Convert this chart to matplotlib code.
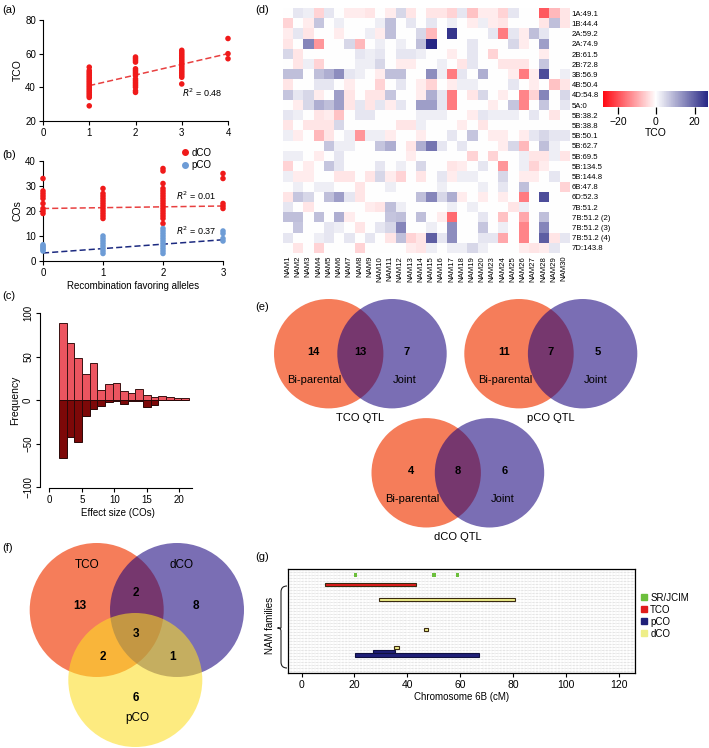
import numpy as np
import matplotlib
matplotlib.use("Agg")
import matplotlib.pyplot as plt
from matplotlib.patches import Circle, PathPatch
from matplotlib.path import Path
from matplotlib.colors import LinearSegmentedColormap, TwoSlopeNorm
from matplotlib.lines import Line2D

plt.rcParams['font.family'] = ['Liberation Sans', 'DejaVu Sans']
plt.rcParams['font.size'] = 7
plt.rcParams['axes.linewidth'] = 0.8
plt.rcParams['xtick.major.width'] = 0.8
plt.rcParams['ytick.major.width'] = 0.8
plt.rcParams['xtick.major.size'] = 3
plt.rcParams['ytick.major.size'] = 3

# ---------------- data ----------------
# (a) TCO vs number of recombination-favoring alleles
tco_x = [1, 2, 3, 4]
tco_vals = [
    [29, 34, 35, 36, 37, 38, 39, 40, 41, 42, 43, 44, 45, 46, 47, 48, 49, 50, 52],
    [37, 38, 40, 41, 42, 43, 44, 45, 47, 48, 49, 50, 51, 55, 56, 57, 58],
    [42, 46, 47, 48, 49, 50, 51, 52, 53, 54, 55, 56, 57, 58, 59, 60, 61, 62],
    [57, 60, 69],
]
tco_fit_x = [1, 4]
tco_fit_y = [41, 60]
tco_r2 = "0.48"

# (b) dCO / pCO vs alleles
co_x = [0, 1, 2, 3]
dco_vals = [
    [19, 20, 21, 23, 25, 26, 27, 28, 33],
    [17, 18, 19, 20, 21, 22, 23, 24, 25, 26, 27, 29],
    [15, 17, 18, 19, 20, 21, 22, 23, 24, 25, 26, 27, 28, 29, 31, 36, 37],
    [21, 22, 23, 33, 35],
]
pco_vals = [
    [4, 4.5, 5, 5.5, 6, 6.5],
    [3, 4, 5, 6, 7, 8, 9, 10],
    [3, 4, 5, 6, 7, 8, 9, 10, 11, 12, 13],
    [8, 9, 11, 12],
]
dco_fit_x = [0, 3]
dco_fit_y = [21, 22]
pco_fit_x = [0, 3]
pco_fit_y = [3.2, 8.5]
dco_r2 = "0.01"
pco_r2 = "0.37"

# (c) effect size histogram (positive / negative effects)
bin_edges = np.linspace(1.5, 21.5, 18)
freq_pos = [88, 65, 48, 30, 42, 11, 18, 19, 10, 8, 13, 6, 3, 5, 3, 2, 2]
freq_neg = [-67, -43, -48, -18, -10, -7, -2, -1, -5, -1, -1, -8, -6, 0, 0, 0, 0]

# (d) heatmap of TCO effects
nam_cols = ['NAM1', 'NAM2', 'NAM3', 'NAM4', 'NAM5', 'NAM6', 'NAM7', 'NAM8', 'NAM9',
            'NAM10', 'NAM11', 'NAM12', 'NAM13', 'NAM14', 'NAM15', 'NAM16', 'NAM17',
            'NAM18', 'NAM19', 'NAM20', 'NAM23', 'NAM24', 'NAM25', 'NAM26', 'NAM27',
            'NAM28', 'NAM29', 'NAM30']
qtl_rows = ['1A:49.1', '1B:44.4', '2A:59.2', '2A:74.9', '2B:61.5', '2B:72.8', '3B:56.9',
            '4B:50.4', '4D:54.8', '5A:0', '5B:38.2', '5B:38.8', '5B:50.1', '5B:62.7',
            '5B:69.5', '5B:134.5', '5B:144.8', '6B:47.8', '6D:52.3', '7B:51.2',
            '7B:51.2 (2)', '7B:51.2 (3)', '7B:51.2 (4)', '7D:143.8']
heat_values = [
    [0, 3, 2, -5, 3, 0, -2, -2, -3, 0, -2, 5, -3, 0, -3, -3, -5, 3, -7, -2, -2, -5, 3, 0, 0, -19, -8, -3],
    [-5, 0, -2, 7, 0, 2, 0, 0, 0, 2, 8, 0, 3, 0, 3, 0, 2, 0, -2, 2, -2, -3, 0, 0, 0, -3, 8, -3],
    [-2, 3, -3, 0, 0, -2, 0, 0, 2, -2, 8, 0, 0, 5, -8, 0, 25, 0, 0, 0, 3, -15, 3, -2, 8, 3, 0, 0],
    [-3, 0, 15, -12, 0, 0, 5, -8, 0, 2, 0, 2, 0, 8, 27, 0, 0, 0, 3, 0, 0, 0, 5, -2, 0, 12, 0, 0],
    [5, -3, 0, 0, 0, 0, 0, 3, 2, 3, 0, 3, 3, 2, 0, 0, -2, 0, 3, 0, -5, 0, 0, 0, 0, -2, 0, 0],
    [0, -3, 2, -5, 0, 0, 0, 2, 2, 5, 0, -2, -2, 0, 0, 2, 0, -3, 3, 0, 0, -3, -3, -3, 0, 7, 0, 0],
    [8, 8, 0, 8, 10, 14, 3, 2, 0, -2, 8, 8, 0, 0, 14, 2, -15, 3, 0, 10, 0, 0, -2, -15, -2, 22, 0, 2],
    [-3, 0, 0, 3, 3, 0, -2, 0, 0, -5, 0, 3, 0, -2, -5, 0, -2, 2, 2, 0, 0, 0, 3, 0, -2, 0, -7, -3],
    [7, 3, 5, -2, 0, 12, -3, 0, -3, -3, 7, 0, 0, -2, 10, 3, -15, 0, -3, 5, 0, -2, 0, -14, -5, 15, 0, 5],
    [0, -2, 5, 10, 8, 12, -3, 3, -3, 3, -2, 3, 0, 12, 12, 3, -15, 0, 0, 0, -2, 0, 7, -14, 0, 7, 0, 3],
    [3, 2, 0, -3, -2, -7, 0, 3, 3, 0, 0, 0, 0, 2, 2, 2, 0, 0, -2, 3, 2, 2, 2, 0, 3, 0, -3, 0],
    [-3, 0, -3, -3, -3, 5, 0, 0, 0, 0, 0, -3, -3, 2, 0, 0, 0, -2, 0, -3, 0, 0, 0, 0, 0, 0, 0, 0],
    [2, -2, 0, -8, -3, 0, 2, -12, 2, 2, -2, 0, 0, -2, 0, 0, 3, 0, 7, 0, -2, -2, 0, -2, 3, 5, 3, 3],
    [0, 0, 0, 0, 7, 2, 2, 0, 0, 7, 10, 0, -3, 10, 17, 3, 0, 3, 0, 0, 0, -2, 5, -8, 0, 8, 2, 0],
    [2, 2, 0, -2, 0, 3, 0, 0, 0, 0, 0, 0, -2, 0, 0, 0, 0, 0, -5, 0, -5, 0, 0, 2, -3, -3, 2, -3],
    [-5, 0, -2, 0, 7, 3, 0, 0, 0, 3, 0, 2, 0, 5, 0, 0, -3, -2, 0, 3, 0, -12, 0, 2, -5, -2, 0, 0],
    [2, -2, -2, 0, 0, -3, -3, 0, -3, 5, -2, -5, 0, -3, 0, 3, -2, 2, 2, 0, 0, 5, 0, -2, -2, 0, 3, 0],
    [0, 2, 0, 2, 2, 0, 0, -3, 0, 0, 2, 0, 0, 0, 0, 2, 0, 0, 0, 2, 0, 3, 0, 8, 0, 0, 0, -5],
    [-3, 7, 5, 0, 8, 12, 3, -3, 0, 0, 0, 0, 0, 8, 15, 5, 10, -2, 0, -2, 0, -2, 0, -15, 0, 22, 0, 0],
    [3, 0, -3, 0, 0, 0, 0, 0, -2, -3, 8, 2, 0, 0, 0, 0, 2, 0, 2, 0, 0, 0, -3, 2, 0, 0, 0, 0],
    [8, 8, 0, 8, 0, 10, -2, 0, 0, 0, 7, 8, 0, 8, 0, -2, -17, 0, 0, 3, 0, -7, 0, -10, 0, 8, 0, 0],
    [0, 7, 0, 0, 3, 2, 0, -3, 0, 3, 5, 15, 0, 0, 2, 0, 14, 0, 0, 7, 0, 2, 0, -14, 0, 15, 0, 0],
    [3, 0, 0, 2, 3, 0, 3, 0, 3, 0, -3, 8, -5, -3, 20, 3, 14, 0, 0, 3, 3, -10, 0, -14, 0, 20, -3, 3],
    [0, -3, 0, -5, 0, 0, 0, -5, 0, 0, 0, 0, -2, -3, 2, 0, 2, 2, 5, 2, 0, 0, 0, -2, -3, -2, 3, 0],
]

# (e) two-set Venn counts: [bi-parental only, shared, joint only]
venn_e_names = ['TCO QTL', 'pCO QTL', 'dCO QTL']
venn_e_counts = [[14, 13, 7], [11, 7, 5], [4, 8, 6]]

# (f) three-set Venn counts
venn_f_sets = ['TCO', 'dCO', 'pCO']
venn_f_counts = {'TCO': 13, 'dCO': 8, 'pCO': 6, 'TCO&dCO': 2, 'TCO&pCO': 2,
                 'dCO&pCO': 1, 'all': 3}

# (g) QTL intervals on chromosome 6B
g_trait = ['TCO', 'dCO', 'dCO', 'dCO', 'pCO', 'pCO']
g_start = [8.8, 29.3, 46.3, 35.0, 27.0, 20.1]
g_end = [43.2, 80.8, 47.8, 36.9, 35.2, 67.1]
g_row = [5, 10, 20, 26, 27.5, 28.6]
sr_pos = [20.4, 50.1, 59.0]
sr_row = 2
g_colors = {'SR/JCIM': '#6cbf3c', 'TCO': '#e01b1b', 'pCO': '#1f1f78', 'dCO': '#eeee88'}

# ---------------- figure ----------------
W, H = 709, 748
fig = plt.figure(figsize=(W / 100, H / 100), dpi=100)


def rect(l, t, r, b):
    return [l / W, 1 - b / H, (r - l) / W, (b - t) / H]


ov = fig.add_axes([0, 0, 1, 1], zorder=0)
ov.set_xlim(0, W)
ov.set_ylim(H, 0)
ov.axis('off')

for lab, (px, py) in {'(a)': (2, 10), '(b)': (2, 155), '(c)': (2, 296), '(d)': (255, 10),
                      '(e)': (255, 307), '(f)': (2, 548), '(g)': (255, 557)}.items():
    ov.text(px, py, lab, fontsize=8, ha='left', va='center')


def rstyle(ax):
    for s in ['top', 'right']:
        ax.spines[s].set_visible(False)


# (a)
axa = fig.add_axes(rect(43, 20, 228, 121), zorder=2)
for x, vals in zip(tco_x, tco_vals):
    axa.scatter(np.full(len(vals), x), vals, s=16, color='#f01a1a', edgecolors='none',
                zorder=3, clip_on=False)
axa.plot(tco_fit_x, tco_fit_y, ls=(0, (4, 2)), color='#e84040', lw=1.1, zorder=2)
axa.set_xlim(0, 4)
axa.set_ylim(20, 80)
axa.set_xticks([0, 1, 2, 3, 4])
axa.set_yticks([20, 40, 60, 80])
axa.set_ylabel('TCO', fontsize=7.5, labelpad=2)
axa.text(3.45, 37, r'$R^2$ = ' + tco_r2, fontsize=6.5, ha='center', va='center')
axa.tick_params(labelsize=7, pad=2)
rstyle(axa)

# (b)
axb = fig.add_axes(rect(43, 161, 223, 261), zorder=2)
for x, vals in zip(co_x, dco_vals):
    axb.scatter(np.full(len(vals), x), vals, s=16, color='#f01a1a', edgecolors='none',
                zorder=3, clip_on=False)
for x, vals in zip(co_x, pco_vals):
    axb.scatter(np.full(len(vals), x), vals, s=16, color='#6d9cd6', edgecolors='none',
                zorder=3, clip_on=False)
axb.plot(dco_fit_x, dco_fit_y, ls=(0, (4, 2)), color='#e84040', lw=1.1, zorder=2)
axb.plot(pco_fit_x, pco_fit_y, ls=(0, (4, 2)), color='#1c2a80', lw=1.1, zorder=2)
axb.set_xlim(0, 3)
axb.set_ylim(0, 40)
axb.set_xticks([0, 1, 2, 3])
axb.set_yticks([0, 10, 20, 30, 40])
axb.set_ylabel('COs', fontsize=7.5, labelpad=2)
axb.set_xlabel('Recombination favoring alleles', fontsize=7, labelpad=2)
axb.text(2.55, 26, r'$R^2$ = ' + dco_r2, fontsize=6.5, ha='center', va='center')
axb.text(2.55, 12, r'$R^2$ = ' + pco_r2, fontsize=6.5, ha='center', va='center')
axb.tick_params(labelsize=7, pad=2)
leg_h = [Line2D([], [], marker='o', ls='none', color='#f01a1a', markersize=4),
         Line2D([], [], marker='o', ls='none', color='#6d9cd6', markersize=4)]
axb.legend(leg_h, ['dCO', 'pCO'], loc='upper left', bbox_to_anchor=(0.73, 1.18),
           frameon=False, fontsize=7, handletextpad=0.1, labelspacing=0.25,
           borderpad=0, handlelength=1.2)
rstyle(axb)

# (c)
axc = fig.add_axes(rect(40, 313, 195.5, 487), zorder=2)
widths = np.diff(bin_edges)
axc.bar(bin_edges[:-1], freq_pos, width=widths, align='edge', color='#ec5560',
        edgecolor='#3a1212', lw=0.7)
axc.bar(bin_edges[:-1], freq_neg, width=widths, align='edge', color='#7d0808',
        edgecolor='#2a0808', lw=0.7)
axc.set_xlim(-1.43, 22.5)
axc.set_ylim(-100, 100)
axc.set_xticks([0, 5, 10, 15, 20])
axc.set_yticks([-100, -50, 0, 50, 100])
axc.set_yticklabels(['\u2212100', '\u221250', '0', '50', '100'], rotation=90, va='center')
axc.spines['bottom'].set_bounds(0, 22)
axc.spines['bottom'].set_position(('outward', 1))
axc.set_ylabel('Frequency', fontsize=7.5, labelpad=2)
axc.set_xlabel('Effect size (COs)', fontsize=7, labelpad=2)
axc.tick_params(labelsize=7, pad=2)
rstyle(axc)

# (d)
axd = fig.add_axes(rect(282.7, 8.3, 569, 253), zorder=2)
cmap = LinearSegmentedColormap.from_list('rwn', ['#ff0a14', '#ffffff', '#262684'])
norm = TwoSlopeNorm(vcenter=0, vmin=-28, vmax=27)
im = axd.imshow(np.array(heat_values), cmap=cmap, norm=norm, aspect='auto',
                interpolation='nearest')
axd.set_xticks(range(len(nam_cols)))
axd.set_xticklabels(nam_cols, rotation=90, fontsize=5.6)
axd.set_yticks(range(len(qtl_rows)))
axd.set_yticklabels(qtl_rows, fontsize=5.6)
axd.yaxis.tick_right()
axd.tick_params(length=0, pad=2)
for s in axd.spines.values():
    s.set_visible(False)
cax = fig.add_axes(rect(603.3, 90.7, 708.3, 107.3), zorder=2)
cb = fig.colorbar(im, cax=cax, orientation='horizontal', ticks=[-20, 0, 20])
cb.outline.set_visible(False)
cb.ax.set_xticklabels(['\u221220', '0', '20'])
cb.ax.tick_params(labelsize=7.5, length=5, width=0.9, pad=2)
cb.set_label('TCO', fontsize=7.5, labelpad=1)

# Venn colors
coral = '#f57d5a'
purple = '#1a057e'
yellow = '#fdde24'
alpha_top = 0.58


def venn2(cx1, cx2, cy, r, counts, name):
    ov.add_patch(Circle((cx1, cy), r, color=coral, lw=0, zorder=1))
    ov.add_patch(Circle((cx2, cy), r, color=purple, alpha=alpha_top, lw=0, zorder=2))
    ov.text(cx1 - 15, cy - 2, str(counts[0]), fontsize=8, fontweight='bold', ha='center', va='center', zorder=5)
    ov.text((cx1 + cx2) / 2, cy - 2, str(counts[1]), fontsize=8, fontweight='bold', ha='center', va='center', zorder=5)
    ov.text(cx2 + 15, cy - 2, str(counts[2]), fontsize=8, fontweight='bold', ha='center', va='center', zorder=5)
    ov.text(cx1 - 14, cy + 26.5, 'Bi-parental', fontsize=8, ha='center', va='center', zorder=5)
    ov.text(cx2 + 13, cy + 26.5, 'Joint', fontsize=8, ha='center', va='center', zorder=5)
    ov.text((cx1 + cx2) / 2, cy + 64, name, fontsize=8, ha='center', va='center', zorder=5)


venn2(328.7, 392, 353.7, 54.7, venn_e_counts[0], venn_e_names[0])
venn2(519, 582.6, 353.7, 54.7, venn_e_counts[1], venn_e_names[1])
venn2(426.2, 489.5, 472.8, 54.7, venn_e_counts[2], venn_e_names[2])

# (f)
r3 = 67
c_tco, c_dco, c_pco = (96.7, 610), (177, 610), (135.3, 680)
ov.add_patch(Circle(c_tco, r3, color=coral, lw=0, zorder=1))
ov.add_patch(Circle(c_dco, r3, color=purple, alpha=alpha_top, lw=0, zorder=2))
ov.add_patch(Circle(c_pco, r3, color=yellow, alpha=alpha_top, lw=0, zorder=3))
fk = dict(fontsize=8.5, fontweight='bold', ha='center', va='center', zorder=5)
ov.text(80, 606, str(venn_f_counts['TCO']), **fk)
ov.text(196, 606, str(venn_f_counts['dCO']), **fk)
ov.text(136, 698, str(venn_f_counts['pCO']), **fk)
ov.text(136, 593, str(venn_f_counts['TCO&dCO']), **fk)
ov.text(103.3, 657, str(venn_f_counts['TCO&pCO']), **fk)
ov.text(172.7, 657, str(venn_f_counts['dCO&pCO']), **fk)
ov.text(136, 634, str(venn_f_counts['all']), **fk)
ov.text(87.3, 565, venn_f_sets[0], fontsize=8.5, ha='center', va='center', zorder=5)
ov.text(181.7, 565, venn_f_sets[1], fontsize=8.5, ha='center', va='center', zorder=5)
ov.text(137.3, 718, venn_f_sets[2], fontsize=8.5, ha='center', va='center', zorder=5)

# (g)
axg = fig.add_axes(rect(288.3, 569.3, 634.7, 673.3), zorder=2)
axg.set_xlim(-5, 126)
axg.set_ylim(34.7, 0)
for yy in np.arange(1, 35):
    axg.axhline(yy, ls=(0, (1, 1.2)), color='#c4c4c4', lw=0.45, zorder=0)
for xx in np.arange(-4, 126, 1.15):
    axg.axvline(xx, ls=(0, (1, 1.2)), color='#dadada', lw=0.35, zorder=0)
for t, s0, s1, rr in zip(g_trait, g_start, g_end, g_row):
    axg.barh(rr, s1 - s0, left=s0, height=1.15, color=g_colors[t],
             edgecolor='#3a2a10' if t != 'pCO' else '#101040', lw=0.8, zorder=3)
axg.scatter(sr_pos, [sr_row] * len(sr_pos), s=7, marker='s', color=g_colors['SR/JCIM'],
            edgecolors='none', zorder=3)
axg.set_xticks([0, 20, 40, 60, 80, 100, 120])
axg.set_yticks([])
axg.set_xlabel('Chromosome 6B (cM)', fontsize=7, labelpad=1)
axg.tick_params(labelsize=7.5, pad=2)
for s in axg.spines.values():
    s.set_linewidth(0.9)
g_leg = [Line2D([], [], marker='s', ls='none', color=g_colors[k], markersize=4)
         for k in ['SR/JCIM', 'TCO', 'pCO', 'dCO']]
axg.legend(g_leg, ['SR/JCIM', 'TCO', 'pCO', 'dCO'], loc='upper left',
           bbox_to_anchor=(1.0, 0.82), frameon=False, fontsize=7, handletextpad=0.1,
           labelspacing=0.2, borderpad=0, handlelength=1.0)

# brace
verts = [(287, 586), (281, 586), (281, 592), (281, 622), (281, 626), (281, 628), (277.5, 628),
         (281, 628), (281, 631), (281, 662), (281, 668), (287, 668)]
codes = [Path.MOVETO, Path.CURVE3, Path.CURVE3, Path.LINETO, Path.CURVE3, Path.CURVE3,
         Path.LINETO, Path.CURVE3, Path.CURVE3, Path.LINETO, Path.CURVE3, Path.CURVE3]
ov.add_patch(PathPatch(Path(verts, codes), fill=False, lw=0.8, color='#222222'))
ov.text(270, 625, 'NAM families', rotation=90, fontsize=7, ha='center', va='center')

fig.savefig('out.png', dpi=100)
